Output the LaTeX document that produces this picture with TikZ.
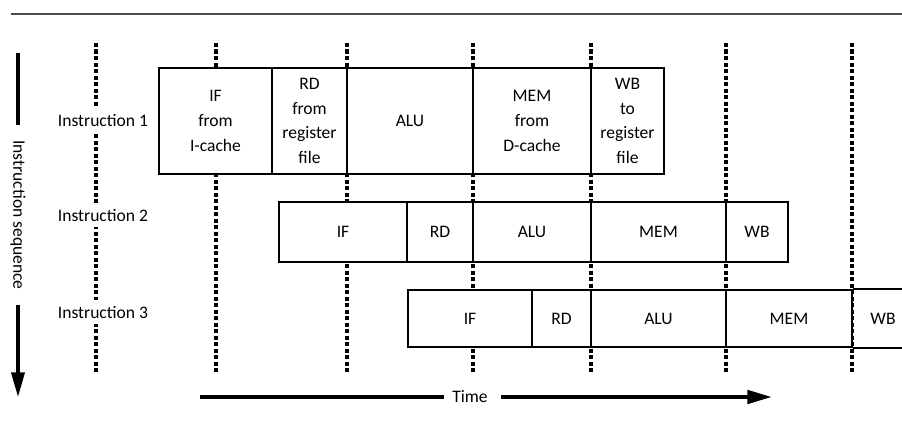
\documentclass[tikz,border=0pt]{standalone}
\usepackage{fontspec}
\setmainfont{Carlito}
\usetikzlibrary{arrows.meta}
\tikzset{stg/.style={draw, line width=1.15pt, fill=white, inner sep=0pt, align=center},
  r1/.style={stg, minimum height=21.2mm},
  r2/.style={stg, minimum height=12mm},
  r3/.style={stg, minimum height=11.4mm},
  tick/.style={line width=2pt, dash pattern=on 2.4pt off 1.3pt},
  pin/.style={-{Triangle[length=14pt, width=7.5pt]}, line width=2.4pt},
  lab/.style={font=\fontsize{10}{14}\selectfont, align=center}}

\begin{document}
\begin{tikzpicture}[x=0.02cm, y=-0.02cm, font=\fontsize{10}{14}\selectfont]
  \useasboundingbox (0,0) rectangle (902,429);
  \coordinate (edge) at (902,0);
  \draw[black!70, line width=1pt] (11,14) -- (902,14);
  % clock boundaries
  \foreach \x in {96,216,347,473,591,726,852}
    \draw[tick] (\x,43) -- (\x,372);
  \node[lab, fill=white] (i1) at (103,120) {Instruction 1};
  \node[lab, fill=white] (i2) at (103,215) {Instruction 2};
  \node[lab, fill=white] (i3) at (103,312) {Instruction 3};
  % instruction 1
  \node[r1, minimum width=22.6mm] (if1)  at (215.5,121) {IF\\from\\I-cache};
  \node[r1, minimum width=15mm]   (rd1)  at (309.5,121) {RD\\from\\register\\file};
  \node[r1, minimum width=25.2mm] (alu1) at (410,121)   {ALU};
  \node[r1, minimum width=23.6mm] (mem1) at (532,121)   {MEM\\from\\D-cache};
  \node[r1, minimum width=14.6mm] (wb1)  at (627.5,121) {WB\\to\\register\\file};
  % instruction 2
  \node[r2, minimum width=25.6mm] (if2)  at (343,232)   {IF};
  \node[r2, minimum width=13.2mm] (rd2)  at (440,232)   {RD};
  \node[r2, minimum width=23.6mm] (alu2) at (532,232)   {ALU};
  \node[r2, minimum width=27mm]   (mem2) at (658.5,232) {MEM};
  \node[r2, minimum width=12.4mm] (wb2)  at (757,232)   {WB};
  % instruction 3
  \node[r3, minimum width=24.8mm] (if3)  at (470,318.5)   {IF};
  \node[r3, minimum width=11.8mm] (rd3)  at (561.5,318.5) {RD};
  \node[r3, minimum width=27mm]   (alu3) at (658.5,318.5) {ALU};
  \node[r3, minimum width=25.2mm] (mem3) at (789,318.5)   {MEM};
  \node[lab] (wb3) at (883,318.5) {WB};
  \draw[line width=1.15pt] (mem3.north east) -- (mem3.north east -| edge);
  \draw[line width=1.15pt] (mem3.south east) -- (mem3.south east -| edge);
  % instruction sequence axis
  \node[lab, rotate=-90, inner sep=0pt, outer xsep=8.5pt] (seq) at (18,215) {Instruction sequence};
  \coordinate (s0) at (18,53);
  \coordinate (s1) at (18,397);
  \draw[line width=1.8pt] (s0) -- (seq.west);
  \draw[pin, line width=1.8pt] (seq.east) -- (s1);
  % time axis
  \node[lab, inner sep=0pt, outer xsep=4.5pt] (time) at (470,397) {Time};
  \coordinate (t0) at (200,397);
  \coordinate (t1) at (772,397);
  \draw[line width=2.4pt] (t0) -- (time.west);
  \draw[pin] ([xshift=3pt]time.east) -- (t1);
\end{tikzpicture}
\end{document}
